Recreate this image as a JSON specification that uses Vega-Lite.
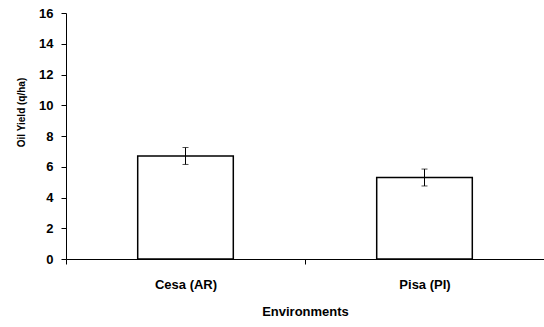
{
  "$schema": "https://vega.github.io/schema/vega-lite/v6.json",
  "width": 478,
  "height": 246,
  "autosize": "none",
  "padding": {"left": 66, "top": 13, "right": 0, "bottom": 68},
  "background": "white",
  "data": {"values": [
    {"env": "Cesa (AR)", "yield": 6.7, "lo": 6.15, "hi": 7.25},
    {"env": "Pisa (PI)", "yield": 5.3, "lo": 4.75, "hi": 5.85}
  ]},
  "config": {
    "view": {"stroke": null},
    "font": "Liberation Sans",
    "axis": {"grid": false, "domainColor": "black", "tickColor": "black", "labelColor": "black", "titleColor": "black", "labelFont": "Liberation Sans", "titleFont": "Liberation Sans", "labelFontWeight": "bold", "titleFontWeight": "bold", "labelFontSize": 13, "titleFontSize": 13},
    "axisY": {"values": [0,2,4,6,8,10,12,14,16], "labelOverlap": false, "tickSize": 5, "labelPadding": 8, "titlePadding": 12, "titleFontSize": 10, "titleY": 99}
  },
  "encoding": {
    "x": {"field": "env", "type": "nominal", "title": "Environments",
      "scale": {"paddingInner": 0, "paddingOuter": 0},
      "axis": {"labelAngle": 0, "tickBand": "extent", "tickSize": 5, "labelPadding": 14, "titlePadding": 14}}
  },
  "layer": [
    {"mark": {"type": "bar", "fill": "white", "stroke": "black", "strokeWidth": 1.5, "width": {"band": 0.4}},
     "encoding": {"y": {"field": "yield", "type": "quantitative", "title": "Oil Yield (q/ha)",
       "scale": {"domain": [0, 16]}}}},
    {"mark": {"type": "rule", "color": "black", "strokeWidth": 1},
     "encoding": {"y": {"field": "lo", "type": "quantitative"}, "y2": {"field": "hi"}}},
    {"mark": {"type": "tick", "color": "black", "size": 6, "thickness": 1},
     "encoding": {"y": {"field": "lo", "type": "quantitative"}}},
    {"mark": {"type": "tick", "color": "black", "size": 6, "thickness": 1},
     "encoding": {"y": {"field": "hi", "type": "quantitative"}}}
  ]
}
